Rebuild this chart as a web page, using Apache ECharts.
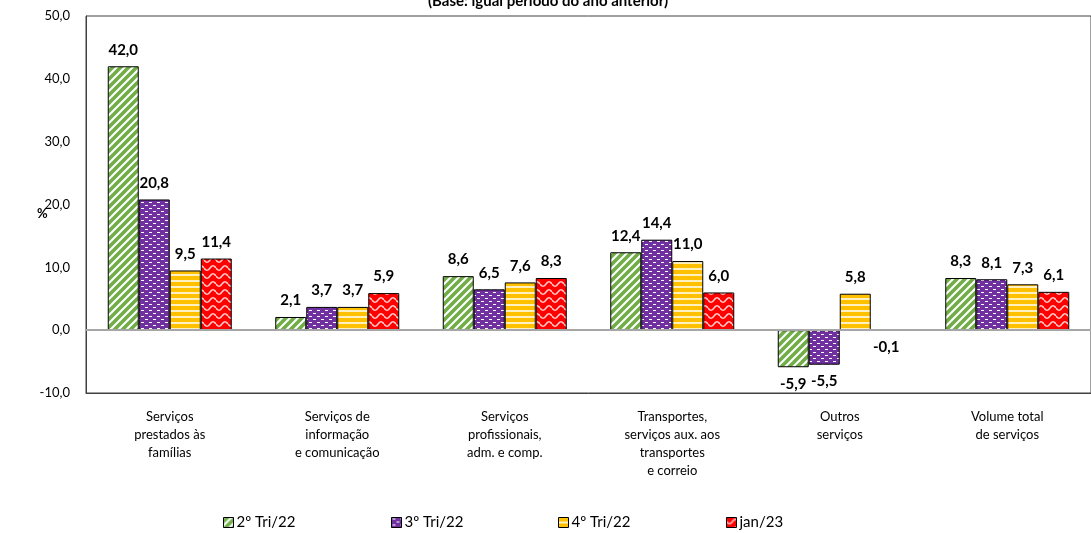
<!DOCTYPE html>
<html><head><meta charset="utf-8">
<script src="https://cdn.jsdelivr.net/npm/echarts@6/dist/echarts.min.js"></script>
<style>html,body{margin:0;padding:0;background:#fff}#c{width:1091px;height:533px}</style>
</head><body><div id="c"></div>
<script>
const categories = [
  "Serviços\nprestados às\nfamílias",
  "Serviços de\ninformação\ne comunicação",
  "Serviços\nprofissionais,\nadm. e comp.",
  "Transportes,\nserviços aux. aos\ntransportes\ne correio",
  "Outros\nserviços",
  "Volume total\nde serviços"
];
const seriesNames = ["2º Tri/22", "3º Tri/22", "4º Tri/22", "jan/23"];
const tri2_22 = [42.0, 2.1, 8.6, 12.4, -5.9, 8.3];
const tri3_22 = [20.8, 3.7, 6.5, 14.4, -5.5, 8.1];
const tri4_22 = [9.5, 3.7, 7.6, 11.0, 5.8, 7.3];
const jan23   = [11.4, 5.9, 8.3, 6.0, -0.1, 6.1];
const yTicks = { min: -10, max: 50, interval: 10 };

function tile(w, h, draw) {
  const c = document.createElement('canvas');
  c.width = w; c.height = h;
  draw(c.getContext('2d'), w, h);
  return c;
}
const patGreen = tile(8, 8, (g, w, h) => {
  g.fillStyle = '#70AD47'; g.fillRect(0, 0, w, h);
  g.strokeStyle = '#ffffff'; g.lineWidth = 2;
  for (let k = -2; k <= 2; k++) {
    g.beginPath(); g.moveTo(k * 8 - 1, h + 1); g.lineTo(k * 8 + w + 1, -1); g.stroke();
  }
});
const patPurple = tile(8, 6, (g, w, h) => {
  g.fillStyle = '#7030A0'; g.fillRect(0, 0, w, h);
  g.fillStyle = '#ffffff';
  g.fillRect(1, 1, 3, 1); g.fillRect(5, 4, 3, 1);
});
const patYellow = tile(4, 6, (g, w, h) => {
  g.fillStyle = '#FFC000'; g.fillRect(0, 0, w, h);
  g.fillStyle = '#FFF0C0'; g.fillRect(0, 4, w, 2);
});
const patRed = tile(12, 8, (g, w, h) => {
  g.fillStyle = '#FF0000'; g.fillRect(0, 0, w, h);
  g.strokeStyle = '#ffd0d0'; g.lineWidth = 1.5;
  g.beginPath();
  for (let x = 0; x <= w; x += 0.5) {
    const y = 4 + 2.2 * Math.sin(x / w * Math.PI * 2);
    if (x === 0) g.moveTo(x, y); else g.lineTo(x, y);
  }
  g.stroke();
});
const patterns = [patGreen, patPurple, patYellow, patRed];
const allData = [tri2_22, tri3_22, tri4_22, jan23];

const fontFam = 'Lato, "Open Sans", sans-serif';
const series = allData.map((arr, i) => ({
  name: seriesNames[i],
  type: 'bar',
  barWidth: 31,
  barGap: '0%',
  data: arr.map(v => v < 0 ? { value: v, label: { position: 'bottom' } } : v),
  itemStyle: { color: { image: patterns[i], repeat: 'repeat' }, borderColor: '#000', borderWidth: 1 },
  label: {
    show: true, position: 'top', distance: 9,
    fontFamily: fontFam, fontWeight: 'bold', fontSize: 15, color: '#000',
    formatter: p => p.value.toFixed(1).replace('.', ',')
  },
  markLine: i === 0 ? {
    silent: true, symbol: 'none', label: { show: false },
    lineStyle: { color: '#A6A6A6', width: 2, type: 'solid' },
    data: [{ yAxis: 0 }]
  } : undefined
}));

const legendLeft = [218, 386, 553, 721];
const legends = seriesNames.map((n, i) => ({
  data: [n], left: legendLeft[i], top: 510, icon: 'rect',
  itemWidth: 10, itemHeight: 10, itemGap: 4,
  selectedMode: false,
  itemStyle: { borderColor: '#000', borderWidth: 1 },
  textStyle: { fontFamily: fontFam, fontSize: 15, color: '#000', padding: [0, 0, 0, -2] }
}));

const chart = echarts.init(document.getElementById('c'), null, { renderer: 'canvas' });
chart.setOption({
  animation: false,
  title: {
    text: '(Base: igual período do ano anterior)', left: 543, textAlign: 'center', top: -11,
    textStyle: { fontFamily: fontFam, fontWeight: 'bold', fontSize: 15, color: '#000' }
  },
  legend: legends,
  grid: { left: 86, top: 16, width: 1023, height: 377, show: true, borderColor: '#404040', borderWidth: 1 },
  xAxis: {
    type: 'category', data: categories,
    axisLine: { onZero: false, lineStyle: { color: '#404040' } },
    axisTick: { show: false },
    axisLabel: { margin: 15, fontFamily: fontFam, fontSize: 13, lineHeight: 18, color: '#000', interval: 0 }
  },
  yAxis: {
    type: 'value', min: yTicks.min, max: yTicks.max, interval: yTicks.interval,
    splitLine: { show: false },
    axisLine: { show: true, lineStyle: { color: '#404040' } },
    axisTick: { show: false },
    axisLabel: { margin: 16, fontFamily: fontFam, fontSize: 13, color: '#000',
      formatter: v => v.toFixed(1).replace('.', ',') }
  },
  graphic: [{ type: 'text', left: 37, top: 207,
    style: { text: '%', fontFamily: fontFam, fontSize: 13, fontWeight: 'bold', fill: '#000' } }],
  series: series
});
</script></body></html>
